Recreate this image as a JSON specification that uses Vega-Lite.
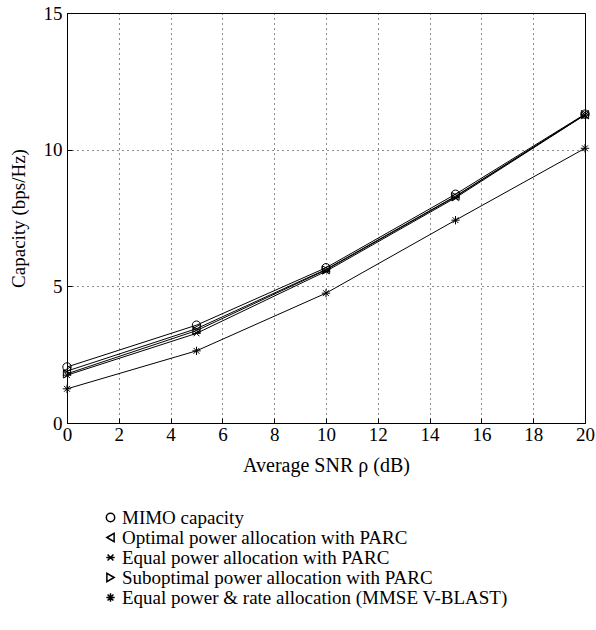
{
  "$schema": "https://vega.github.io/schema/vega-lite/v6.json",
  "autosize": "none",
  "width": 518,
  "height": 410,
  "padding": {"left": 67, "top": 13, "right": 11, "bottom": 207},
  "background": "white",
  "config": {
    "font": "Liberation Serif",
    "view": {"stroke": "black", "strokeWidth": 1}
  },
  "data": {"values": [
    {"snr": 0, "capacity": 2.05, "series": "MIMO capacity"},
    {"snr": 5, "capacity": 3.58, "series": "MIMO capacity"},
    {"snr": 10, "capacity": 5.68, "series": "MIMO capacity"},
    {"snr": 15, "capacity": 8.37, "series": "MIMO capacity"},
    {"snr": 20, "capacity": 11.3, "series": "MIMO capacity"},
    {"snr": 0, "capacity": 1.9, "series": "Optimal power allocation with PARC"},
    {"snr": 5, "capacity": 3.45, "series": "Optimal power allocation with PARC"},
    {"snr": 10, "capacity": 5.62, "series": "Optimal power allocation with PARC"},
    {"snr": 15, "capacity": 8.3, "series": "Optimal power allocation with PARC"},
    {"snr": 20, "capacity": 11.28, "series": "Optimal power allocation with PARC"},
    {"snr": 0, "capacity": 1.75, "series": "Equal power allocation with PARC"},
    {"snr": 5, "capacity": 3.28, "series": "Equal power allocation with PARC"},
    {"snr": 10, "capacity": 5.55, "series": "Equal power allocation with PARC"},
    {"snr": 15, "capacity": 8.24, "series": "Equal power allocation with PARC"},
    {"snr": 20, "capacity": 11.27, "series": "Equal power allocation with PARC"},
    {"snr": 0, "capacity": 1.8, "series": "Suboptimal power allocation with PARC"},
    {"snr": 5, "capacity": 3.38, "series": "Suboptimal power allocation with PARC"},
    {"snr": 10, "capacity": 5.6, "series": "Suboptimal power allocation with PARC"},
    {"snr": 15, "capacity": 8.28, "series": "Suboptimal power allocation with PARC"},
    {"snr": 20, "capacity": 11.28, "series": "Suboptimal power allocation with PARC"},
    {"snr": 0, "capacity": 1.25, "series": "Equal power & rate allocation (MMSE V-BLAST)"},
    {"snr": 5, "capacity": 2.64, "series": "Equal power & rate allocation (MMSE V-BLAST)"},
    {"snr": 10, "capacity": 4.75, "series": "Equal power & rate allocation (MMSE V-BLAST)"},
    {"snr": 15, "capacity": 7.42, "series": "Equal power & rate allocation (MMSE V-BLAST)"},
    {"snr": 20, "capacity": 10.05, "series": "Equal power & rate allocation (MMSE V-BLAST)"}
  ]},
  "encoding": {
    "x": {"field": "snr", "type": "quantitative", "title": "Average SNR ρ (dB)",
          "scale": {"domain": [0, 20], "nice": false},
          "axis": {"values": [0, 2, 4, 6, 8, 10, 12, 14, 16, 18, 20], "titlePadding": 11,
                   "labelFont": "Liberation Serif", "titleFont": "Liberation Serif",
                   "labelFontSize": 19, "titleFontSize": 20, "titleFontWeight": "normal",
                   "labelColor": "black", "titleColor": "black", "domainColor": "black", "tickColor": "black",
                   "grid": true, "gridColor": "black", "gridDash": [1, 4], "gridOpacity": 0.9,
                   "tickSize": -5, "labelPadding": 7, "labelFlush": false}},
    "y": {"field": "capacity", "type": "quantitative", "title": "Capacity (bps/Hz)",
          "scale": {"domain": [0, 15], "nice": false},
          "axis": {"values": [0, 5, 10, 15], "titlePadding": 15,
                   "labelFont": "Liberation Serif", "titleFont": "Liberation Serif",
                   "labelFontSize": 19, "titleFontSize": 19, "titleFontWeight": "normal",
                   "labelColor": "black", "titleColor": "black", "domainColor": "black", "tickColor": "black",
                   "grid": true, "gridColor": "black", "gridDash": [1, 4], "gridOpacity": 0.9,
                   "tickSize": -5, "labelPadding": 10, "labelFlush": false}}
  },
  "layer": [
    {
      "mark": {"type": "line", "color": "black", "strokeWidth": 1},
      "encoding": {"detail": {"field": "series"}}
    },
    {
      "mark": {"type": "point", "filled": false, "color": "black", "strokeWidth": 1, "size": 70, "opacity": 1},
      "encoding": {
        "shape": {
          "field": "series", "type": "nominal", "title": null,
          "scale": {
            "domain": ["MIMO capacity", "Optimal power allocation with PARC", "Equal power allocation with PARC", "Suboptimal power allocation with PARC", "Equal power & rate allocation (MMSE V-BLAST)"],
            "range": ["circle", "triangle-left", "M-1,0L1,0M-0.7,-0.7L0.7,0.7M-0.7,0.7L0.7,-0.7", "triangle-right", "M-1,0L1,0M0,-1L0,1M-0.7,-0.7L0.7,0.7M-0.7,0.7L0.7,-0.7"]
          },
          "legend": {"orient": "none", "legendX": 34, "legendY": 495, "symbolStrokeColor": "black", "symbolFillColor": "transparent", "symbolSize": 70, "rowPadding": -3, "labelOffset": 2,
                     "labelFont": "Liberation Serif", "labelFontSize": 19, "labelColor": "black", "labelLimit": 0}
        }
      }
    }
  ]
}
